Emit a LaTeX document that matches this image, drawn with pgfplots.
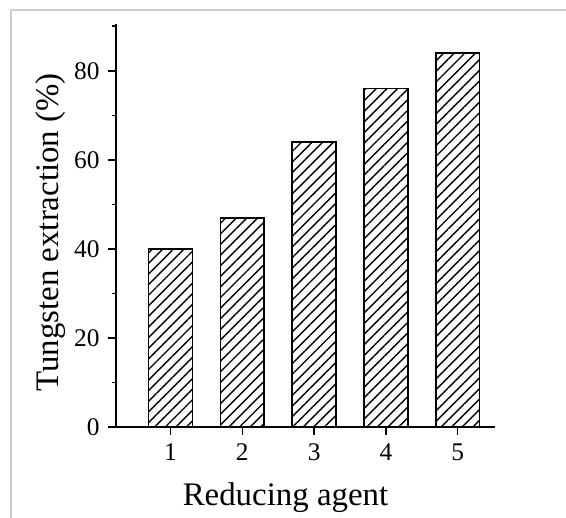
\documentclass[border=0pt]{standalone}
\usepackage{pgfplots}
\pgfplotsset{compat=1.18}
\usepackage{fontspec}
\setmainfont{Liberation Serif}
\usetikzlibrary{patterns.meta}
\begin{document}
\begin{tikzpicture}
\useasboundingbox (0,0) rectangle (566bp,518bp);
\fill[white] (0,0) rectangle (566bp,518bp);
\draw[color={rgb,255:red,205;green,205;blue,205}, line width=2bp] (11bp,0) -- (11bp,508bp) -- (566bp,508bp);
\begin{axis}[
  at={(116bp,91bp)}, anchor=south west,
  scale only axis,
  width=379bp, height=403bp,
  axis lines*=left,
  axis line style={line width=1.5bp, -},
  xmin=0.24, xmax=5.52,
  ymin=0, ymax=90.5,
  xtick={1,2,3,4,5},
  ytick={0,20,40,60,80},
  minor ytick={10,30,50,70,90},
  tick align=outside,
  major tick length=8bp,
  minor tick length=4bp,
  tick style={line width=1.5bp, black},
  /pgf/number format/assume math mode=true,
  tick label style={font=\fontsize{25.5}{30}\selectfont},
  xticklabel style={yshift=-5bp},
  yticklabel style={xshift=-5bp},
  xlabel={Reducing agent},
  ylabel={Tungsten extraction (\%)},
  label style={font=\fontsize{33}{38}\selectfont},
  xlabel style={at={(rel axis cs:0.4472,-0.196)}, anchor=base},
  ylabel style={at={(rel axis cs:-0.153,0.483)}, anchor=base},
  clip=false,
]
\addplot[ybar, bar width=0.61, draw=black, line width=1.6bp, fill=white,
  postaction={pattern={Lines[angle=45,distance=7.5bp,line width=1.4bp]}}]
  coordinates {(1,40) (2,47) (3,64) (4,76) (5,84)};
\end{axis}
\end{tikzpicture}
\end{document}
